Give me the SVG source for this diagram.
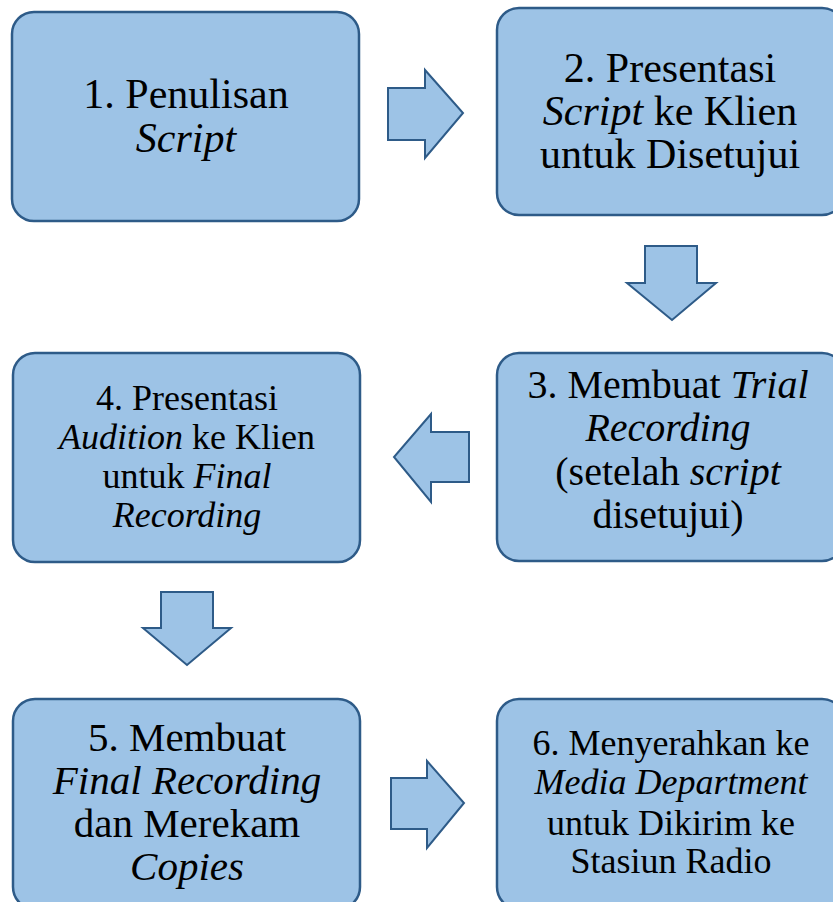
<svg xmlns="http://www.w3.org/2000/svg" width="833" height="902" viewBox="0 0 833 902">
<style>
.box{fill:#9DC3E6;stroke:#2E5B88;stroke-width:2.5}
.arr{fill:#9DC3E6;stroke:#2E5B88;stroke-width:2;stroke-linejoin:miter}
text{font-family:"Liberation Serif","Times New Roman",serif;fill:#000;text-anchor:middle}
.i{font-style:italic}
</style>
<rect width="833" height="902" fill="#fff"/>
<g id="node1">
<rect class="box" x="12" y="12" width="347" height="209" rx="22"/>
<text x="186" y="108" font-size="42">1. Penulisan</text>
<text x="186" y="152" font-size="42" class="i">Script</text>
</g>
<g id="node2">
<rect class="box" x="497" y="8" width="347" height="207" rx="22"/>
<text x="670" y="82" font-size="42">2. Presentasi</text>
<text x="670" y="125" font-size="42"><tspan class="i">Script</tspan> ke Klien</text>
<text x="670" y="168" font-size="42">untuk Disetujui</text>
</g>
<g id="node3">
<rect class="box" x="497" y="353" width="347" height="208" rx="22"/>
<text x="668" y="398" font-size="40">3. Membuat <tspan class="i">Trial</tspan></text>
<text x="668" y="441" font-size="40" class="i">Recording</text>
<text x="668" y="485" font-size="40">(setelah <tspan class="i">script</tspan></text>
<text x="668" y="528" font-size="40">disetujui)</text>
</g>
<g id="node4">
<rect class="box" x="13" y="353" width="347" height="209" rx="22"/>
<text x="187" y="410" font-size="36">4. Presentasi</text>
<text x="187" y="449" font-size="36"><tspan class="i">Audition</tspan> ke Klien</text>
<text x="187" y="488" font-size="36">untuk <tspan class="i">Final</tspan></text>
<text x="187" y="527" font-size="36" class="i">Recording</text>
</g>
<g id="node5">
<rect class="box" x="13" y="699" width="347" height="210" rx="22"/>
<text x="187" y="751" font-size="41">5. Membuat</text>
<text x="187" y="794" font-size="41" class="i">Final Recording</text>
<text x="187" y="837" font-size="41">dan Merekam</text>
<text x="187" y="880" font-size="41" class="i">Copies</text>
</g>
<g id="node6">
<rect class="box" x="497" y="699" width="347" height="210" rx="22"/>
<text x="671" y="755" font-size="36">6. Menyerahkan ke</text>
<text x="671" y="794" font-size="36" class="i">Media Department</text>
<text x="671" y="835" font-size="36">untuk Dikirim ke</text>
<text x="671" y="873" font-size="36">Stasiun Radio</text>
</g>
<g id="connectors">
<polygon class="arr" points="388,88 425,88 425,70 463,113 425,158 425,140 388,140"/>
<polygon class="arr" points="645,246 697,246 697,283 716,283 672,320 627,283 645,283"/>
<polygon class="arr" points="469,432 431,432 431,414 394,457 431,502 431,482 469,482"/>
<polygon class="arr" points="161,592 213,592 213,628 231,628 187,665 143,628 161,628"/>
<polygon class="arr" points="391,778 427,778 427,761 464,803 427,848 427,829 391,829"/>
</g>
</svg>
